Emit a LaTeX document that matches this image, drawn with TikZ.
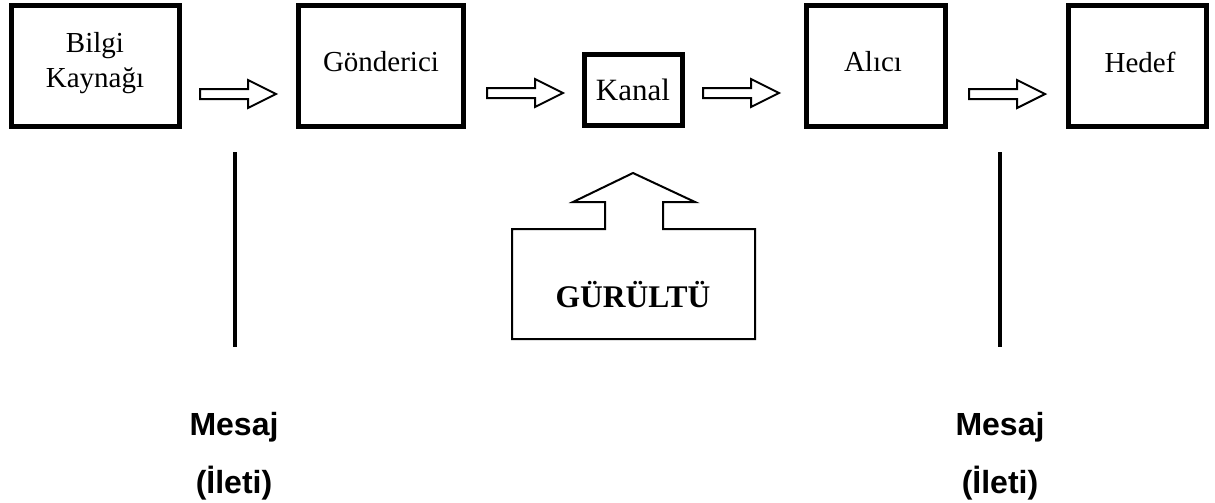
\documentclass[tikz,border=0pt]{standalone}
\usepackage{fontspec}
\setmainfont{Liberation Serif}
\newfontfamily\msgfont{Liberation Sans}
\begin{document}
\begin{tikzpicture}[x=1pt,y=-1pt,
  box/.style={draw,line width=5pt,inner sep=0pt,align=center,font=\fontsize{29}{34}\selectfont},
  lbl/.style={font=\fontsize{29}{35}\selectfont,align=center},
  hollowarrow/.pic={\draw[line width=2pt,line join=miter] (0,-5) -- (48,-5) -- (48,-14) -- (76,0) -- (48,14) -- (48,5) -- (0,5) -- cycle;},
  msg/.style={font=\msgfont\bfseries\fontsize{32}{38}\selectfont},
  vline/.style={line width=4pt}]
\useasboundingbox (0,0) rectangle (1215,503);
\node[box,minimum width=168pt,minimum height=120pt] (src) at (95,66) {};
\node[lbl] (srct) at (95,63) {Bilgi\\Kaynağı};
\node[box,minimum width=165pt,minimum height=120pt] (snd) at (380.5,66) {};
\node[lbl] (sndt) at (381,62) {Gönderici};
\node[box,minimum width=98pt,minimum height=70pt,font=\fontsize{31}{36}\selectfont] (ch) at (633,90) {Kanal};
\node[box,minimum width=139pt,minimum height=120pt] (rcv) at (875.5,66) {};
\node[lbl] (rcvt) at (873,62) {Alıcı};
\node[box,minimum width=138pt,minimum height=120pt] (dst) at (1137,66) {};
\node[lbl] (dstt) at (1140,62) {Hedef};
\pic (a1) at (200,94) {hollowarrow};
\pic (a2) at (487,93) {hollowarrow};
\pic (a3) at (703,93) {hollowarrow};
\pic (a4) at (969,94) {hollowarrow};
% noise
\coordinate (tip) at (633,173);
\draw[line width=2pt,line join=miter] (tip) -- (695,202) -- (663,202) -- (663,229) -- (755,229) -- (755,339) -- (512,339) -- (512,229) -- (605,229) -- (605,202) -- (573,202) -- cycle;
\node[font=\bfseries\fontsize{31.5}{38}\selectfont] (noise) at (633,295) {GÜRÜLTÜ};
% message lines
\coordinate (l1a) at (235,152); \coordinate (l1b) at (235,347);
\coordinate (l2a) at (1000,152); \coordinate (l2b) at (1000,347);
\draw[vline] (l1a) -- (l1b);
\draw[vline] (l2a) -- (l2b);
\node[msg] (m1) at (234,427) {Mesaj};
\node[msg] (i1) at (234,483) {(İleti)};
\node[msg] (m2) at (1000,427) {Mesaj};
\node[msg] (i2) at (1000,483) {(İleti)};
\end{tikzpicture}
\end{document}
